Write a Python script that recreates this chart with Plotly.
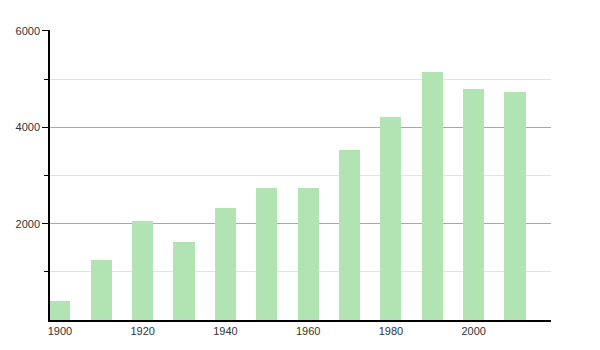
import plotly.graph_objects as go

years = [1900, 1910, 1920, 1930, 1940, 1950, 1960, 1970, 1980, 1990, 2000, 2010]
population = [400, 1250, 2060, 1610, 2330, 2750, 2730, 3530, 4210, 5150, 4790, 4730]
x_tick_labels = ["1900", "1920", "1940", "1960", "1980", "2000"]
y_tick_values = [2000, 4000, 6000]
y_minor_values = [1000, 3000, 5000]

fig = go.Figure()
fig.add_trace(go.Bar(
    x=years, y=population, width=5.1,
    marker=dict(color="#b2e4b3", line=dict(width=0)),
    hoverinfo="x+y",
))

fig.update_layout(
    width=600, height=350,
    margin=dict(l=50, r=49, t=30, b=30),
    paper_bgcolor="white", plot_bgcolor="white",
    showlegend=False,
    bargap=0,
    font=dict(family="Liberation Sans, Arial, sans-serif", size=11, color="#333333"),
    xaxis=dict(
        range=[1897.6, 2018.7],
        tickvals=[int(t) for t in x_tick_labels],
        ticktext=x_tick_labels,
        showgrid=False, zeroline=False,
        showline=True, linecolor="black", linewidth=1.5,
        ticks="", ticklen=0,
    ),
    yaxis=dict(
        range=[0, 6020],
        tickvals=y_tick_values,
        ticktext=[str(v) for v in y_tick_values],
        showgrid=True, gridcolor="#a8a8a8", gridwidth=1,
        zeroline=False,
        showline=True, linecolor="black", linewidth=1.5,
        ticks="outside", ticklen=6, tickcolor="black",
        minor=dict(tickvals=y_minor_values, ticks="outside", ticklen=4,
                   tickcolor="black", showgrid=True, gridcolor="#e2e2e2"),
    ),
)

fig.write_html("out.html")
